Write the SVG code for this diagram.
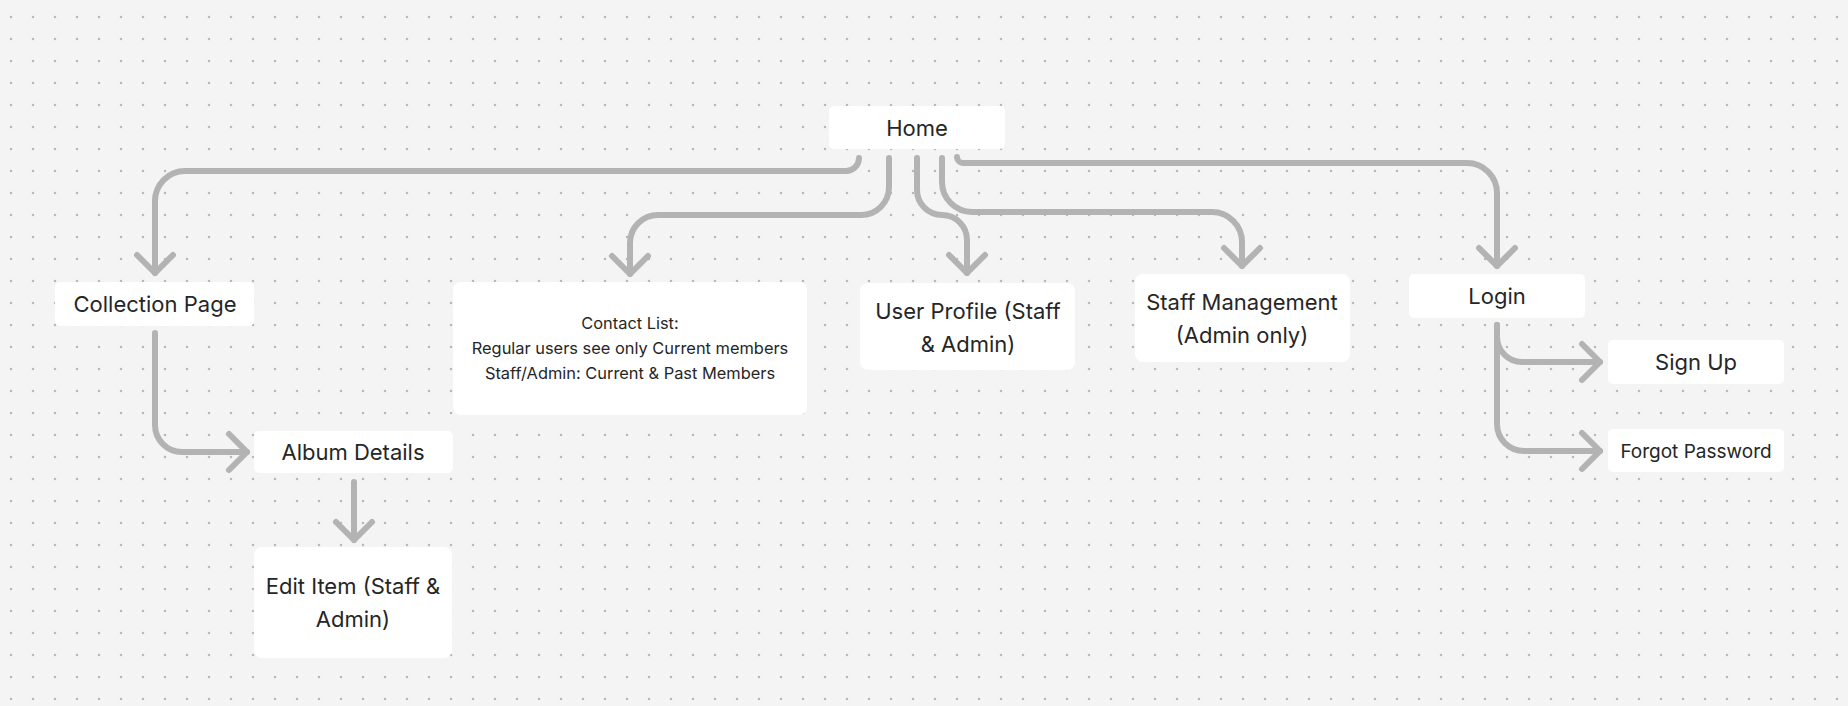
<svg xmlns="http://www.w3.org/2000/svg" width="1848" height="706" viewBox="0 0 1848 706">
<defs>
<pattern id="dots" x="0" y="6" width="22" height="22" patternUnits="userSpaceOnUse">
<circle cx="11" cy="11" r="1.25" fill="#b8b8b8"/>
</pattern>
<marker id="arr" viewBox="-24 -24 48 48" markerWidth="48" markerHeight="48" refX="0" refY="0" orient="auto" markerUnits="userSpaceOnUse" overflow="visible">
<path d="M-18,-18 L0,0 L-18,18" fill="none" stroke="#b3b3b3" stroke-width="6" stroke-linecap="round" stroke-linejoin="round"/>
</marker>
<style>
.box{fill:#ffffff;}
.t{font-family:Inter,"Noto Sans","Liberation Sans",sans-serif;font-size:22px;fill:#262626;text-anchor:middle;dominant-baseline:central;}
.s{font-size:16.4px;}
.m{font-size:19px;}
.c{fill:none;stroke:#b3b3b3;stroke-width:6;stroke-linecap:round;stroke-linejoin:round;marker-end:url(#arr);}
</style>
</defs>
<rect width="1848" height="706" fill="#f4f4f4"/>
<rect width="1848" height="706" fill="url(#dots)"/>

<g id="connectors">
<path class="c" d="M859,158 A13,13 0 0 1 846,171 L185,171 A30,30 0 0 0 155,201 L155,273"/>
<path class="c" d="M889,158 L889,187 A28,28 0 0 1 861,215 L658,215 A28,28 0 0 0 630,243 L630,274"/>
<path class="c" d="M917,158 L917,190 A25,25 0 0 0 942,215 A25,25 0 0 1 967,240 L967,273"/>
<path class="c" d="M942,158 L942,182 A30,30 0 0 0 972,212 L1212,212 A30,30 0 0 1 1242,242 L1242,266"/>
<path class="c" d="M957,157 A6,6 0 0 0 963,163 L1467,163 A30,30 0 0 1 1497,193 L1497,266"/>
<path class="c" d="M155,333 L155,425 A27,27 0 0 0 182,452 L247,452"/>
<path class="c" d="M354,482 L354,540"/>
<path class="c" d="M1497,325 L1497,337 A25,25 0 0 0 1522,362 L1600,362"/>
<path class="c" d="M1497,325 L1497,424 A27,27 0 0 0 1524,451 L1600,451"/>
</g>

<g id="home">
<rect class="box" x="829" y="106" width="176" height="43" rx="5"/>
<text class="t" x="917" y="128">Home</text>
</g>
<g id="collection">
<rect class="box" x="55" y="282" width="199" height="44" rx="5"/>
<text class="t" x="155" y="304">Collection Page</text>
</g>
<g id="album">
<rect class="box" x="254" y="431" width="199" height="42" rx="5"/>
<text class="t" x="353" y="452">Album Details</text>
</g>
<g id="edit">
<rect class="box" x="254" y="547" width="198" height="111" rx="8"/>
<text class="t" x="353" y="586">Edit Item (Staff &amp;</text>
<text class="t" x="353" y="619">Admin)</text>
</g>
<g id="contact">
<rect class="box" x="453" y="282" width="354" height="133" rx="8"/>
<text class="t s" x="630" y="323">Contact List:</text>
<text class="t s" x="630" y="348">Regular users see only Current members</text>
<text class="t s" x="630" y="373">Staff/Admin: Current &amp; Past Members</text>
</g>
<g id="userprofile">
<rect class="box" x="860" y="283" width="215" height="87" rx="8"/>
<text class="t" x="968" y="311">User Profile (Staff</text>
<text class="t" x="968" y="344">&amp; Admin)</text>
</g>
<g id="staff">
<rect class="box" x="1135" y="274" width="215" height="88" rx="8"/>
<text class="t" x="1242" y="302">Staff Management</text>
<text class="t" x="1242" y="335">(Admin only)</text>
</g>
<g id="login">
<rect class="box" x="1409" y="274" width="176" height="44" rx="5"/>
<text class="t" x="1497" y="296">Login</text>
</g>
<g id="signup">
<rect class="box" x="1608" y="340" width="176" height="44" rx="5"/>
<text class="t" x="1696" y="362">Sign Up</text>
</g>
<g id="forgot">
<rect class="box" x="1608" y="429" width="176" height="43" rx="5"/>
<text class="t m" x="1696" y="451">Forgot Password</text>
</g>
</svg>
